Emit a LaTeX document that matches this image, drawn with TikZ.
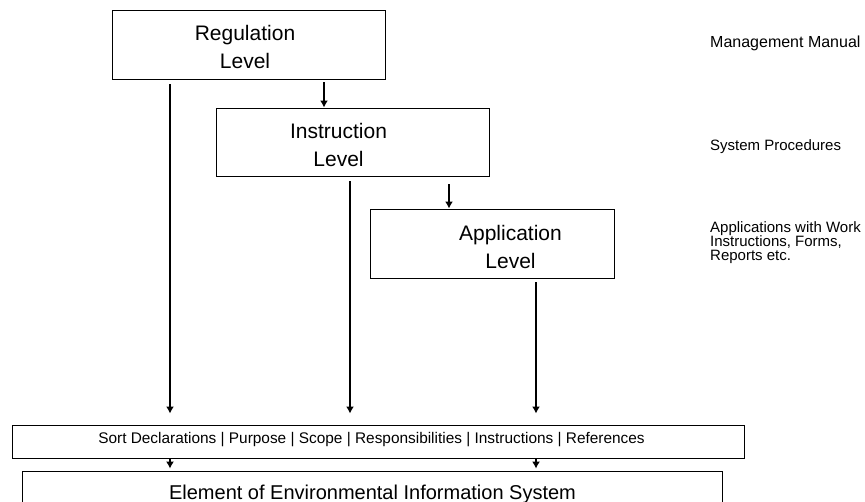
\documentclass[tikz,border=0pt]{standalone}
\usepackage{fontspec}
\setmainfont{Liberation Sans}
\usetikzlibrary{calc,positioning,arrows.meta}

\begin{document}
\begin{tikzpicture}[
  x=1pt,
  y=-1pt,
  level node/.style={
    draw,
    line width=0.9pt,
    minimum width=273pt,
    minimum height=69pt,
    inner sep=0pt,
  },
  level text/.style={align=center,font=\fontsize{21}{28}\selectfont},
  bar node/.style={draw,line width=0.9pt,inner sep=0pt},
  note node/.style={
    anchor=west,
    align=left,
    inner sep=0pt,
    font=\fontsize{15}{14}\selectfont,
  },
  flow/.style={line width=1.5pt,-{Latex[length=7pt,width=8pt]}},
  ]
  \fill[white] (0,0) rectangle (865,502);
  \useasboundingbox (0,0) rectangle (865,502);
  \begin{scope}
    \node[level node]                        (reg) at (248.5,44.5) {};
    \node[level node,minimum height=68pt]    (ins) at (352.5,142)  {};
    \node[level node,minimum width=244pt]    (app) at (492,243.5)  {};
    \node[level text] (reg-text) at (245,47)    {Regulation\\Level};
    \node[level text] (ins-text) at (338.5,144.5) {Instruction\\Level};
    \node[level text] (app-text) at (510.5,246.5) {Application\\Level};
  \end{scope}
  \begin{scope}
    \node[bar node,minimum width=732pt,minimum height=33pt] (sort) at (378,441.5) {};
    \node[font=\fontsize{15.4}{17}\selectfont] (sort-text) at (371.5,440)
      {Sort Declarations | Purpose | Scope | Responsibilities | Instructions | References};
    \node[bar node,minimum width=700pt,minimum height=60pt] (elem) at (372,501) {};
    \node[font=\fontsize{20}{24}\selectfont] (elem-text) at (372.5,494)
      {Element of Environmental Information System};
  \end{scope}
  \begin{scope}
    \node[note node,font=\fontsize{16}{14}\selectfont] (manual) at (710,43) {Management Manual};
    \node[note node] (procedures)   at (710,147) {System Procedures};
    \node[note node] (applications) at (710,243) {Applications with Work\\Instructions, Forms,\\Reports etc.};
  \end{scope}
  \begin{scope}
    \coordinate (reg-out) at ([xshift=-78.5pt,yshift=-5pt]reg.south);
    \coordinate (ins-out) at ([xshift=-2.5pt,yshift=-5pt]ins.south);
    \coordinate (app-out) at ([xshift=44pt,yshift=-4pt]app.south);
    \draw[flow] ([xshift=75.5pt,yshift=-3pt]reg.south) -- ([xshift=-28.5pt]ins.north);
    \draw[flow] ([xshift=96.5pt,yshift=-8pt]ins.south) -- ([xshift=-43pt]app.north);
    \draw[flow,shorten >=11pt] (reg-out) -- (reg-out |- sort.north);
    \draw[flow,shorten >=11pt] (ins-out) -- (ins-out |- sort.north);
    \draw[flow,shorten >=11pt] (app-out) -- (app-out |- sort.north);
    \draw[flow,line width=1.2pt,shorten >=2pt] (sort.south -| reg-out) -- (elem.north -| reg-out);
    \draw[flow,line width=1.2pt,shorten >=2pt] (sort.south -| app-out) -- (elem.north -| app-out);
  \end{scope}
\end{tikzpicture}
\end{document}
